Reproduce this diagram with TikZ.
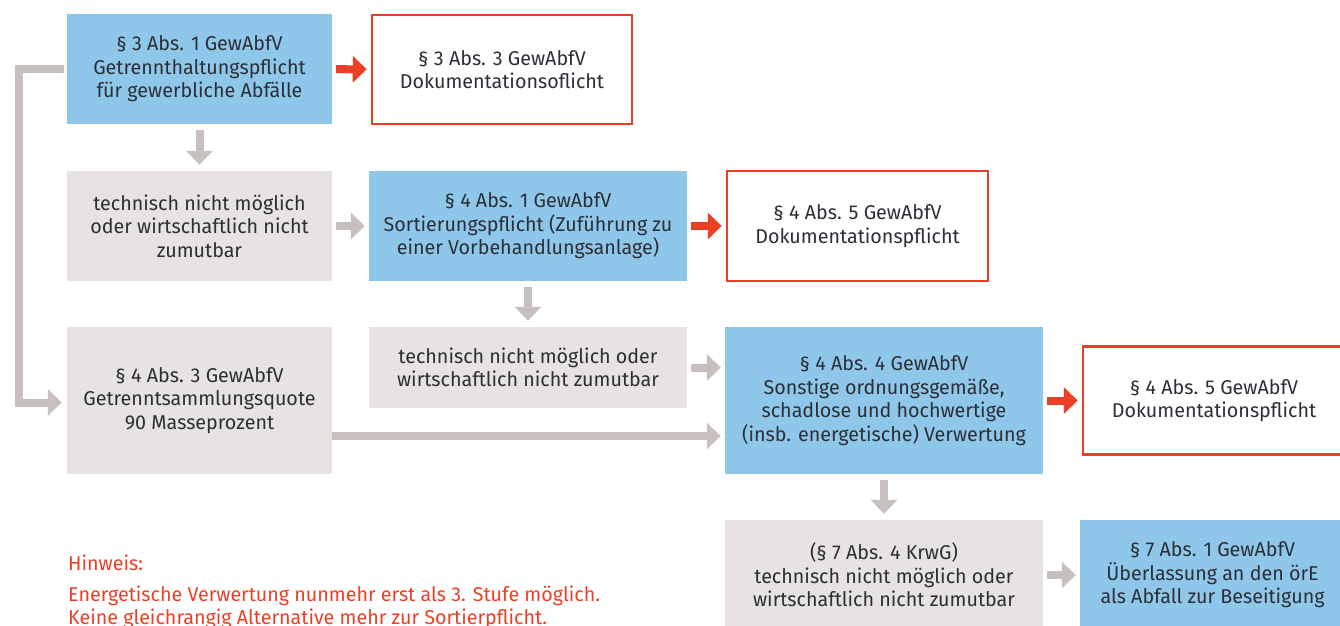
\documentclass[tikz,border=0pt]{standalone}
\usepackage{fontspec}
\setmainfont{Fira Sans}[FakeStretch=0.985]
\usetikzlibrary{arrows.meta}
\definecolor{boxblue}{HTML}{8EC7EA}
\definecolor{boxgray}{HTML}{E7E3E2}
\definecolor{arrgray}{HTML}{C8C0BE}
\definecolor{hred}{HTML}{EB4026}
\definecolor{txt}{HTML}{2C2F36}
\tikzset{
  base/.style={inner sep=0pt, align=center, text=txt,
    font=\fontsize{20}{23.5}\selectfont},
  bluebox/.style={base, fill=boxblue},
  graybox/.style={base, fill=boxgray},
  redbox/.style={base, fill=white, draw=hred, line width=2.5pt},
  garrow/.style={draw=arrgray, line width=8pt,
    -{Triangle[length=14pt,width=26pt]}, shorten <=4pt, shorten >=4pt},
  rarrow/.style={draw=hred, line width=8pt,
    -{Triangle[length=14pt,width=26pt]}, shorten <=4pt, shorten >=4pt},
  vgarrow/.style={garrow, shorten <=6pt, shorten >=6pt},
  notetext/.style={inner sep=0pt, text=hred, align=left,
    font=\fontsize{20}{23}\selectfont},
}
\begin{document}
\begin{tikzpicture}[x=1pt,y=-1pt]
\useasboundingbox (0,0) rectangle (1340,625);
\clip (0,0) rectangle (1340,625);
\node[bluebox, minimum width=265pt, minimum height=110pt] (A) at (199.5,69)
  {§ 3 Abs. 1 GewAbfV\\Getrennthaltungspflicht\\für gewerbliche Abfälle};
\node[redbox, minimum width=260pt, minimum height=109pt] (B) at (502,69.5)
  {§ 3 Abs. 3 GewAbfV\\Dokumentationsoflicht};
\node[graybox, minimum width=265pt, minimum height=110pt] (C) at (199.5,226)
  {technisch nicht möglich\\oder wirtschaftlich nicht\\zumutbar};
\node[bluebox, minimum width=318pt, minimum height=110pt] (D) at (528,226)
  {§ 4 Abs. 1 GewAbfV\\Sortierungspflicht (Zuführung zu\\einer Vorbehandlungsanlage)};
\node[redbox, minimum width=261pt, minimum height=110pt] (E) at (857.5,226)
  {§ 4 Abs. 5 GewAbfV\\Dokumentationspflicht};
\node[graybox, minimum width=318pt, minimum height=81pt] (F) at (528,367.5)
  {technisch nicht möglich oder\\wirtschaftlich nicht zumutbar};
\node[graybox, minimum width=265pt, minimum height=147pt] (G) at (199.5,400.5)
  {§ 4 Abs. 3 GewAbfV\\Getrenntsammlungsquote\\90 Masseprozent};
\node[bluebox, minimum width=318pt, minimum height=147pt] (H) at (884,400.5)
  {§ 4 Abs. 4 GewAbfV\\Sonstige ordnungsgemäße,\\schadlose und hochwertige\\(insb. energetische) Verwertung};
\node[redbox, minimum width=262pt, minimum height=108pt] (I) at (1214,400.5)
  {§ 4 Abs. 5 GewAbfV\\Dokumentationspflicht};
\node[graybox, minimum width=318pt, minimum height=110pt] (J) at (884,575)
  {(§ 7 Abs. 4 KrwG)\\technisch nicht möglich oder\\wirtschaftlich nicht zumutbar};
\node[bluebox, minimum width=265pt, minimum height=110pt] (K) at (1212.5,575)
  {§ 7 Abs. 1 GewAbfV\\Überlassung an den örE\\als Abfall zur Beseitigung};
\node[notetext, anchor=base west] (N1) at (68,570) {Hinweis:};
\node[notetext, anchor=base west] (N2) at (68,601)
  {Energetische Verwertung nunmehr erst als 3. Stufe möglich.};
\node[notetext, anchor=base west] (N3) at (68,624)
  {Keine gleichrangig Alternative mehr zur Sortierpflicht.};
% connectors
\draw[rarrow] (A) -- (B);
\draw[vgarrow] (A) -- (C);
\draw[garrow] (C) -- (D);
\draw[rarrow] (D) -- (E);
\draw[vgarrow] (D) -- (F);
\draw[garrow] (F.east) -- (F.east -| H.west);
\draw[garrow, shorten <=0pt] ([yshift=-35.5pt]G.east) -- ([yshift=-35.5pt]G.east -| H.west);
\draw[garrow, shorten <=3pt, shorten >=5pt] (A.west) -- ++(-48,0) |- ([yshift=-2pt]G.west);
\draw[rarrow] (H) -- (I);
\draw[vgarrow] (H) -- (J);
\draw[garrow] (J) -- (K);
\end{tikzpicture}
\end{document}
